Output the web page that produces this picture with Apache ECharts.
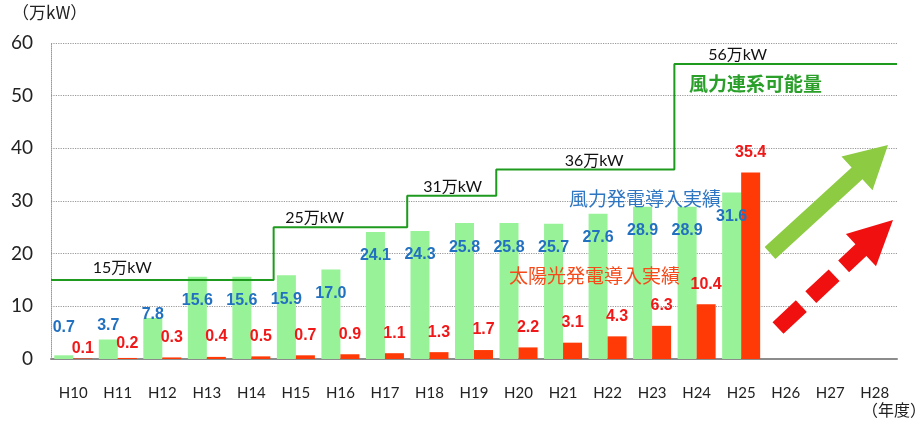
<!DOCTYPE html>
<html><head><meta charset="utf-8">
<script src="https://cdn.jsdelivr.net/npm/echarts@6/dist/echarts.min.js"></script>
<style>html,body{margin:0;padding:0;background:#fff}#c{width:917px;height:422px}</style>
</head><body><div id="c"></div>
<script>
var categories = ['H10','H11','H12','H13','H14','H15','H16','H17','H18','H19','H20','H21','H22','H23','H24','H25','H26','H27','H28'];
var windValues = [0.7,3.7,7.8,15.6,15.6,15.9,17.0,24.1,24.3,25.8,25.8,25.7,27.6,28.9,28.9,31.6,null,null,null];
var solarValues = [0.1,0.2,0.3,0.4,0.5,0.7,0.9,1.1,1.3,1.7,2.2,3.1,4.3,6.3,10.4,35.4,null,null,null];
var capacityValues = [15,15,15,15,15,25,25,25,31,31,36,36,36,36,56,56,56,56,56];
var capacityLabels = ['15万kW','25万kW','31万kW','36万kW','56万kW'];
var yTicks = [0,10,20,30,40,50,60];

var FONT = 'Lato, "Noto Sans CJK JP", sans-serif';
var LBL = '"Liberation Sans", Arial, sans-serif';
var CJK = '"Noto Sans CJK JP", sans-serif';

// step line points built from per-year capacity
var stepPts = [];
capacityValues.forEach(function(v,i){ stepPts.push([i-0.5,v]); stepPts.push([i+0.5,v]); });

// label positions for capacity labels (x index, style only)
var capLabelX = [1.1,5.42,8.52,11.7,14.92];
var capLabelDist = [4,1,1,1,1];
var capMarks = [];
var seen = [];
capacityValues.forEach(function(v){ if(seen.indexOf(v)<0) seen.push(v); });
seen.forEach(function(v,k){
  capMarks.push({coord:[capLabelX[k], v], value:capacityLabels[k],
    label:{show:true, position:'top', distance:capLabelDist[k], formatter:capacityLabels[k],
      color:'#111', fontSize:16, fontFamily:FONT}});
});

var windSmallDy = {0:-15, 1:-1, 2:10};
var windLabelData = windValues.map(function(v,i){
  if(v==null) return null;
  var small = v < 10;
  return {value:v, label:{show:true, position: small?'top':'insideTop',
    offset:[0, small ? windSmallDy[i] : 11]}};
});
var solarDy = {0:3, 1:-1};
var solarLabelData = solarValues.map(function(v,i){
  if(v==null) return null;
  return {value:v, label:{show:true, position:'top', offset:[0, solarDy[i]!=null?solarDy[i]:-7]}};
});
function fmt1(p){ return Number(p.value).toFixed(1); }

function arrowPoly(x1,y1,x2,y2,shaftW,headW,headL){
  var dx=x2-x1, dy=y2-y1, L=Math.sqrt(dx*dx+dy*dy);
  var ux=dx/L, uy=dy/L, nx=-uy, ny=ux;
  var bx=x2-ux*headL, by=y2-uy*headL;
  return [[x1+nx*shaftW/2,y1+ny*shaftW/2],[bx+nx*shaftW/2,by+ny*shaftW/2],[bx+nx*headW/2,by+ny*headW/2],[x2,y2],
          [bx-nx*headW/2,by-ny*headW/2],[bx-nx*shaftW/2,by-ny*shaftW/2],[x1-nx*shaftW/2,y1-ny*shaftW/2]];
}
function headPoly(x1,y1,x2,y2,headW,headL){
  var dx=x2-x1, dy=y2-y1, L=Math.sqrt(dx*dx+dy*dy);
  var ux=dx/L, uy=dy/L, nx=-uy, ny=ux;
  var bx=x2-ux*headL, by=y2-uy*headL;
  return [[bx+nx*headW/2,by+ny*headW/2],[x2,y2],[bx-nx*headW/2,by-ny*headW/2]];
}
var rTail=[778,328], rTip=[893,220];
var rdx=rTip[0]-rTail[0], rdy=rTip[1]-rTail[1], rL=Math.sqrt(rdx*rdx+rdy*rdy);
var rShaftEnd=[rTip[0]-rdx/rL*36, rTip[1]-rdy/rL*36];

var chart = echarts.init(document.getElementById('c'));
chart.setOption({
  animation:false,
  textStyle:{fontFamily:FONT},
  grid:{left:51, right:20, top:43, bottom:63, containLabel:false},
  xAxis:[{
    type:'category', data:categories, boundaryGap:true,
    axisLine:{show:true, lineStyle:{color:'#8c8c8c', width:2}},
    axisTick:{show:false},
    axisLabel:{color:'#222', fontSize:15, margin:27, fontFamily:FONT, interval:0}
  },{
    type:'value', min:-0.5, max:18.5, show:false
  },{
    type:'category', data:categories, boundaryGap:true, show:false
  }],
  yAxis:{
    type:'value', min:0, max:60, interval:10,
    axisLine:{show:true, onZero:false, lineStyle:{color:'#999', type:'dotted', width:1}},
    axisTick:{show:false},
    axisLabel:{color:'#222', fontSize:19, margin:18, fontFamily:FONT,
      formatter:function(v){ return yTicks.indexOf(v)>=0 ? String(v) : ''; }},
    splitLine:{show:true, lineStyle:{color:'#999', type:'dotted', width:1.2}}
  },
  series:[{
    type:'bar', name:'風力発電導入実績', data:windValues, barWidth:19, barGap:'0%',
    itemStyle:{color:'#98F298'}, z:3
  },{
    type:'bar', name:'太陽光発電導入実績', data:solarValues, barWidth:19, barGap:'0%',
    itemStyle:{color:'#FF3A06'}, z:3
  },{
    type:'line', name:'風力連系可能量', xAxisIndex:1, data:stepPts, symbol:'none',
    lineStyle:{color:'#1E9B1E', width:2}, z:5,
    markPoint:{symbol:'circle', symbolSize:0, data:capMarks}
  },{
    type:'bar', xAxisIndex:2, data:windLabelData, barWidth:19, barGap:'0%', silent:true,
    itemStyle:{color:'rgba(0,0,0,0)'}, z:8,
    label:{color:'#2270C0', fontSize:16, fontWeight:'bold', fontFamily:LBL, formatter:fmt1}
  },{
    type:'bar', xAxisIndex:2, data:solarLabelData, barWidth:19, barGap:'0%', silent:true,
    itemStyle:{color:'rgba(0,0,0,0)'}, z:8,
    label:{color:'#F01818', fontSize:16, fontWeight:'bold', fontFamily:LBL, formatter:fmt1}
  }],
  graphic:[
    {type:'text', left:12, top:4, z:20, style:{text:'（万kW）', font:'17px '+CJK, fill:'#222'}},
    {type:'text', left:862, top:402, z:20, style:{text:'（年度）', font:'16px '+CJK, fill:'#222'}},
    {type:'text', left:689, top:74, z:20, style:{text:'風力連系可能量', font:'bold 19px '+CJK, fill:'#2AA02A'}},
    {type:'text', left:569, top:189, z:20, style:{text:'風力発電導入実績', font:'19px '+CJK, fill:'#2E76C2'}},
    {type:'text', left:509, top:266, z:20, style:{text:'太陽光発電導入実績', font:'19px '+CJK, fill:'#F64A1A'}},
    {type:'polygon', z:10, shape:{points:arrowPoly(770,253,888,145,16,46,42)}, style:{fill:'#8DCB43'}},
    {type:'line', z:10, shape:{x1:rTail[0], y1:rTail[1], x2:rShaftEnd[0], y2:rShaftEnd[1]},
      style:{stroke:'#F01010', lineWidth:16, lineDash:[32,13], lineCap:'butt'}},
    {type:'polygon', z:10, shape:{points:headPoly(rTail[0],rTail[1],rTip[0],rTip[1],44,44)}, style:{fill:'#F01010'}}
  ]
});
</script></body></html>
